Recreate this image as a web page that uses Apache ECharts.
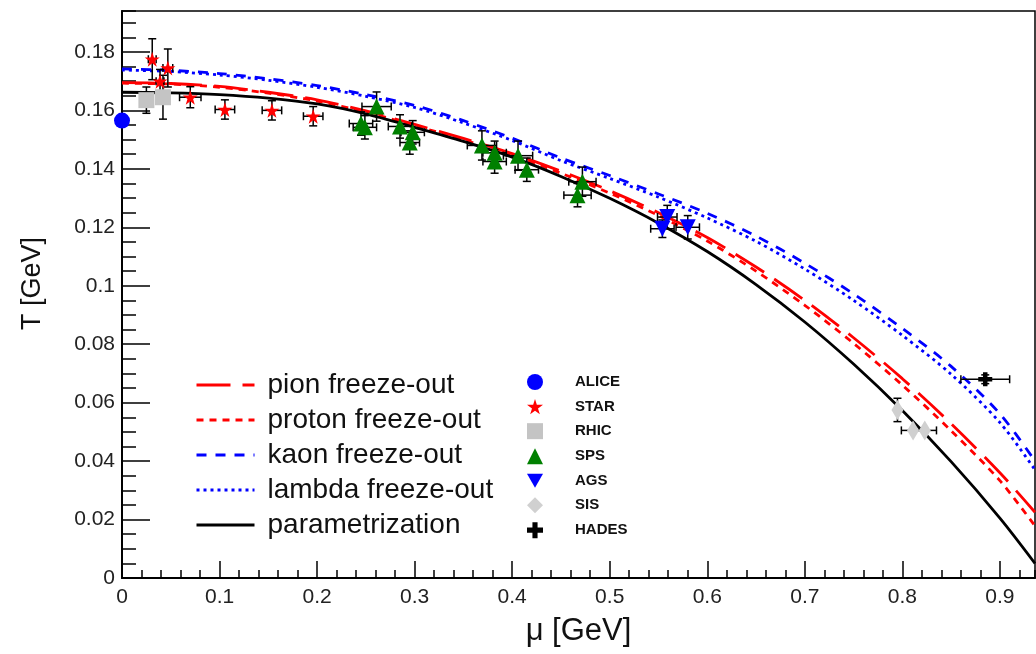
<!DOCTYPE html>
<html>
<head>
<meta charset="utf-8">
<script src="https://cdn.jsdelivr.net/npm/echarts@6/dist/echarts.min.js"></script>
<style>
html,body{margin:0;padding:0;background:#fff;}
#chart{width:1036px;height:654px;}
</style>
</head>
<body>
<div id="chart"></div>
<script>
// ---- data ----
const muGrid   = [0, 0.05, 0.1, 0.15, 0.2, 0.25, 0.3, 0.35, 0.4, 0.45, 0.5, 0.55, 0.6, 0.65, 0.7, 0.75, 0.8, 0.85, 0.9, 0.936];
const tParam   = [0.1662, 0.1660, 0.1654, 0.1642, 0.1622, 0.1588, 0.1542, 0.1494, 0.1440, 0.1374, 0.1299, 0.1214, 0.1117, 0.1004, 0.0876, 0.0732, 0.0573, 0.0398, 0.0205, 0.0050];
const tPion    = [0.1695, 0.1692, 0.1682, 0.1662, 0.1636, 0.1598, 0.1552, 0.1504, 0.1452, 0.1392, 0.1325, 0.1250, 0.1165, 0.1064, 0.0950, 0.0822, 0.0682, 0.0528, 0.0360, 0.0225];
const tProton  = [0.1693, 0.1690, 0.1679, 0.1659, 0.1632, 0.1594, 0.1548, 0.1499, 0.1446, 0.1385, 0.1317, 0.1240, 0.1153, 0.1050, 0.0933, 0.0803, 0.0660, 0.0504, 0.0333, 0.0178];
const tKaon    = [0.1742, 0.1737, 0.1726, 0.1708, 0.1685, 0.1654, 0.1617, 0.1565, 0.1505, 0.1437, 0.1377, 0.1314, 0.1248, 0.1170, 0.1077, 0.0972, 0.0854, 0.0724, 0.0562, 0.0400];
const tLambda  = [0.1738, 0.1733, 0.1721, 0.1703, 0.1679, 0.1648, 0.1610, 0.1557, 0.1497, 0.1428, 0.1367, 0.1303, 0.1232, 0.1152, 0.1057, 0.0950, 0.0830, 0.0697, 0.0532, 0.0370];

// points: [mu, T, muErr, TErr]
const alice = [[0.0, 0.1565, 0, 0]];
const star  = [[0.031, 0.1775, 0.004, 0.007], [0.047, 0.1745, 0.005, 0.0065], [0.039, 0.1700, 0.004, 0.004],
               [0.070, 0.1645, 0.011, 0.0036], [0.1055, 0.1603, 0.010, 0.0033], [0.1537, 0.1600, 0.010, 0.0033],
               [0.196, 0.1580, 0.010, 0.0033]];
const rhic  = [[0.025, 0.1635, 0.005, 0.0045], [0.042, 0.1645, 0.005, 0.0075]];
const sps   = [[0.245, 0.1555, 0.012, 0.004], [0.249, 0.1542, 0.012, 0.004], [0.261, 0.1613, 0.015, 0.005],
               [0.285, 0.1545, 0.012, 0.004], [0.298, 0.1525, 0.012, 0.004], [0.295, 0.1490, 0.010, 0.004],
               [0.369, 0.1480, 0.015, 0.005], [0.382, 0.1455, 0.012, 0.004], [0.382, 0.1425, 0.012, 0.004],
               [0.406, 0.1445, 0.015, 0.005], [0.415, 0.1397, 0.012, 0.004], [0.472, 0.1356, 0.014, 0.005],
               [0.467, 0.1310, 0.014, 0.004]];
const ags   = [[0.559, 0.1235, 0.010, 0.004], [0.554, 0.1195, 0.012, 0.003], [0.580, 0.1200, 0.012, 0.004]];
const sis   = [[0.795, 0.0575, 0, 0.0040], [0.811, 0.0505, 0.012, 0], [0.823, 0.0505, 0.012, 0]];
const hades = [[0.885, 0.0680, 0.025, 0.0015]];

const yTicks = [0, 0.02, 0.04, 0.06, 0.08, 0.1, 0.12, 0.14, 0.16, 0.18];
const xTicks = [0, 0.1, 0.2, 0.3, 0.4, 0.5, 0.6, 0.7, 0.8, 0.9];

const curveNames = ['pion freeze-out', 'proton freeze-out', 'kaon freeze-out', 'lambda freeze-out', 'parametrization'];
const pointNames = ['ALICE', 'STAR', 'RHIC', 'SPS', 'AGS', 'SIS', 'HADES'];

// ---- chart ----
const FONT = 'Liberation Sans, Arial, Helvetica, sans-serif';
const X_MAX = 0.936, Y_MAX = 0.194;
const zip = (xs, ys) => xs.map((x, i) => [x, ys[i]]);

const STAR_PATH  = 'path://M50,0 L61,35 L98,35 L68,57 L79,91 L50,70 L21,91 L32,57 L2,35 L39,35 Z';
const CROSS_PATH = 'path://M34,0 H66 V34 H100 V66 H66 V100 H34 V66 H0 V34 H34 Z';
const DOWN_TRI   = 'path://M0,0 L100,0 L50,87 Z';

function lineSeries(name, data, color, type, width) {
  return {
    name, type: 'line', data, smooth: 0.3, symbol: 'none', showSymbol: false,
    lineStyle: { color, width, type }, itemStyle: { color }, z: 2, clip: true, animation: false
  };
}
function scatterSeries(name, data, symbol, color, size) {
  return {
    name, type: 'scatter', data: data.map(d => [d[0], d[1]]), symbol, symbolSize: size,
    itemStyle: { color, opacity: 1 }, z: 5, clip: false, animation: false
  };
}
const allErr = [].concat(star, rhic, sps, ags, sis, hades);
function renderErr(params, api) {
  const x = api.value(0), y = api.value(1), ex = api.value(2), ey = api.value(3);
  const style = { stroke: '#000', lineWidth: 1.5 };
  const cap = 4;
  const ch = [];
  if (ex > 0) {
    const l = api.coord([x - ex, y]), r = api.coord([x + ex, y]);
    ch.push({ type: 'line', shape: { x1: l[0], y1: l[1], x2: r[0], y2: r[1] }, style });
    ch.push({ type: 'line', shape: { x1: l[0], y1: l[1] - cap, x2: l[0], y2: l[1] + cap }, style });
    ch.push({ type: 'line', shape: { x1: r[0], y1: r[1] - cap, x2: r[0], y2: r[1] + cap }, style });
  }
  if (ey > 0) {
    const t = api.coord([x, y + ey]), b = api.coord([x, y - ey]);
    ch.push({ type: 'line', shape: { x1: t[0], y1: t[1], x2: b[0], y2: b[1] }, style });
    ch.push({ type: 'line', shape: { x1: t[0] - cap, y1: t[1], x2: t[0] + cap, y2: t[1] }, style });
    ch.push({ type: 'line', shape: { x1: b[0] - cap, y1: b[1], x2: b[0] + cap, y2: b[1] }, style });
  }
  return { type: 'group', children: ch };
}

const chart = echarts.init(document.getElementById('chart'), null, { renderer: 'canvas' });
const option = {
  animation: false,
  backgroundColor: '#fff',
  grid: { left: 122, right: 1, top: 11, bottom: 76, show: true, borderColor: '#000', borderWidth: 1.5, backgroundColor: 'transparent' },
  xAxis: [
    {
      type: 'value', min: 0, max: X_MAX, interval: 0.1, position: 'bottom',
      name: 'μ [GeV]', nameLocation: 'middle', nameGap: 38,
      nameTextStyle: { fontFamily: FONT, fontSize: 31, color: '#111' },
      axisLine: { lineStyle: { color: '#000', width: 2 } },
      axisTick: { inside: true, length: 17, lineStyle: { color: '#000', width: 1.5 } },
      axisLabel: { fontFamily: FONT, fontSize: 21, color: '#222', margin: 9, showMaxLabel: false,
                   formatter: v => xTicks.some(t => Math.abs(t - v) < 1e-6) ? String(+v.toFixed(2)) : '' },
      splitLine: { show: false }
    },
    {
      type: 'value', min: 0, max: X_MAX, interval: 0.02, position: 'bottom',
      axisLine: { show: false }, axisLabel: { show: false }, splitLine: { show: false },
      axisTick: { inside: true, length: 8, lineStyle: { color: '#000', width: 1.5 } }
    }
  ],
  yAxis: [
    {
      type: 'value', min: 0, max: Y_MAX, interval: 0.02, position: 'left',
      name: 'T [GeV]', nameLocation: 'middle', nameGap: 76, nameRotate: 90,
      nameTextStyle: { fontFamily: FONT, fontSize: 27, color: '#111', padding: [0, 0, 0, 22] },
      axisLine: { lineStyle: { color: '#000', width: 2 } },
      axisTick: { inside: true, length: 28, lineStyle: { color: '#000', width: 1.5 } },
      axisLabel: { fontFamily: FONT, fontSize: 21, color: '#222', margin: 7, showMaxLabel: false,
                   formatter: v => yTicks.some(t => Math.abs(t - v) < 1e-6) ? String(+v.toFixed(2)) : '' },
      splitLine: { show: false }
    },
    {
      type: 'value', min: 0, max: Y_MAX, interval: 0.005, position: 'left',
      axisLine: { show: false }, axisLabel: { show: false }, splitLine: { show: false },
      axisTick: { inside: true, length: 14, lineStyle: { color: '#000', width: 1.5 } }
    }
  ],
  legend: [
    {
      orient: 'vertical', left: 190, top: 366, itemWidth: 58, itemHeight: 14, itemGap: 7,
      data: curveNames,
      itemStyle: { opacity: 0 },
      lineStyle: { width: 3 },
      textStyle: { fontFamily: FONT, fontSize: 28, color: '#111', padding: [0, 0, 0, 8] }
    },
    {
      orient: 'vertical', left: 522, top: 369, itemWidth: 16, itemHeight: 16, itemGap: 9,
      data: pointNames,
      textStyle: { fontFamily: FONT, fontSize: 15, fontWeight: 'bold', color: '#111', padding: [0, 0, 0, 27] }
    }
  ],
  series: [
    lineSeries('pion freeze-out',   zip(muGrid, tPion),   '#ff0000', [34, 12], 2.8),
    lineSeries('proton freeze-out', zip(muGrid, tProton), '#ff0000', [7, 6], 2.8),
    lineSeries('kaon freeze-out',   zip(muGrid, tKaon),   '#0000ff', [10, 9], 2.8),
    lineSeries('lambda freeze-out', zip(muGrid, tLambda), '#0000ff', [3, 4], 2.8),
    lineSeries('parametrization',   zip(muGrid, tParam),  '#000000', 'solid', 2.8),
    {
      name: 'errors', type: 'custom', renderItem: renderErr, data: allErr,
      encode: { x: 0, y: 1 }, clip: false, z: 4, silent: true, animation: false
    },
    scatterSeries('ALICE', alice, 'circle', '#0000ff', 16),
    scatterSeries('STAR', star, STAR_PATH, '#ff0000', 15),
    scatterSeries('RHIC', rhic, 'rect', '#c4c4c4', 16),
    scatterSeries('SPS', sps, 'triangle', '#008000', 16),
    scatterSeries('AGS', ags, DOWN_TRI, '#0000ff', 16),
    scatterSeries('SIS', sis, 'diamond', '#d0d0d0', [12, 20]),
    scatterSeries('HADES', hades, CROSS_PATH, '#000000', 14)
  ]
};
chart.setOption(option);
</script>
</body>
</html>
